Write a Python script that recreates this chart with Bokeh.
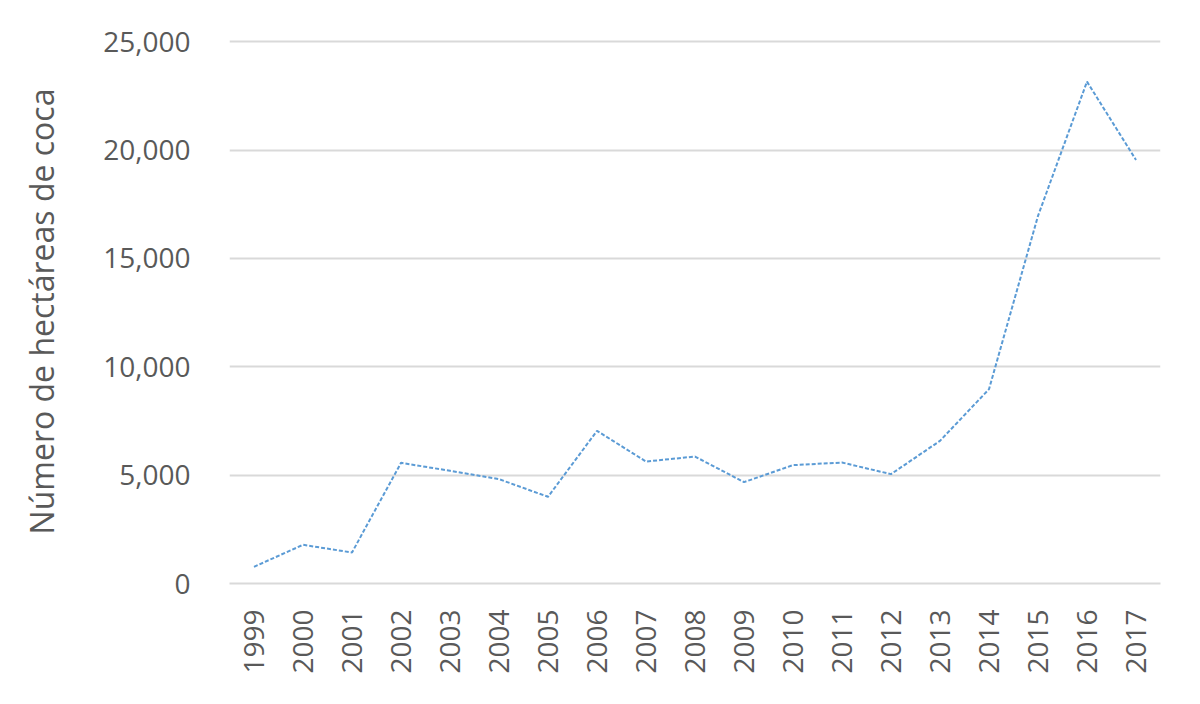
from bokeh.plotting import figure
from bokeh.models import NumeralTickFormatter, FixedTicker, Range1d
from bokeh.embed import file_html
from bokeh.resources import INLINE
import math

years = ["1999", "2000", "2001", "2002", "2003", "2004", "2005", "2006", "2007", "2008",
         "2009", "2010", "2011", "2012", "2013", "2014", "2015", "2016", "2017"]
hectares = [770, 1785, 1430, 5567, 5200, 4815, 4000, 7043, 5627, 5858,
            4677, 5461, 5581, 5046, 6582, 8967, 16960, 23155, 19543]
y_ticks = [0, 5000, 10000, 15000, 20000, 25000]

FONT = "Open Sans"
TXT = "#595959"

p = figure(x_range=years, y_range=Range1d(0, 25100),
           frame_width=931, frame_height=544,
           min_border_left=229, min_border_right=24, min_border_top=39, min_border_bottom=100,
           output_backend="svg", toolbar_location=None)

p.line(years, hectares, line_color="#5b9bd5", line_width=2, line_dash="4 2")

p.outline_line_color = None
p.xgrid.grid_line_color = None
p.ygrid.grid_line_color = "#d9d9d9"
p.ygrid.grid_line_width = 2
p.ygrid.ticker = FixedTicker(ticks=y_ticks)

p.yaxis.ticker = FixedTicker(ticks=y_ticks)
p.yaxis.formatter = NumeralTickFormatter(format="0,0")
p.yaxis.axis_line_color = None
p.yaxis.major_tick_line_color = None
p.yaxis.minor_tick_line_color = None
p.yaxis.major_label_standoff = 33
p.yaxis.major_label_text_font = FONT
p.yaxis.major_label_text_font_size = "28px"
p.yaxis.major_label_text_color = TXT
p.yaxis.axis_label = "Número de hectáreas de coca"
p.yaxis.axis_label_text_font = FONT
p.yaxis.axis_label_text_font_size = "32px"
p.yaxis.axis_label_text_font_style = "normal"
p.yaxis.axis_label_text_color = TXT
p.yaxis.axis_label_standoff = 37

p.xaxis.axis_line_color = "#d9d9d9"
p.xaxis.axis_line_width = 2
p.xaxis.major_tick_line_color = None
p.xaxis.minor_tick_line_color = None
p.xaxis.major_label_orientation = math.pi / 2
p.xaxis.major_label_standoff = 20
p.xaxis.major_label_text_font = FONT
p.xaxis.major_label_text_font_size = "28px"
p.xaxis.major_label_text_color = TXT

open("out.html", "w").write(file_html(p, INLINE))
